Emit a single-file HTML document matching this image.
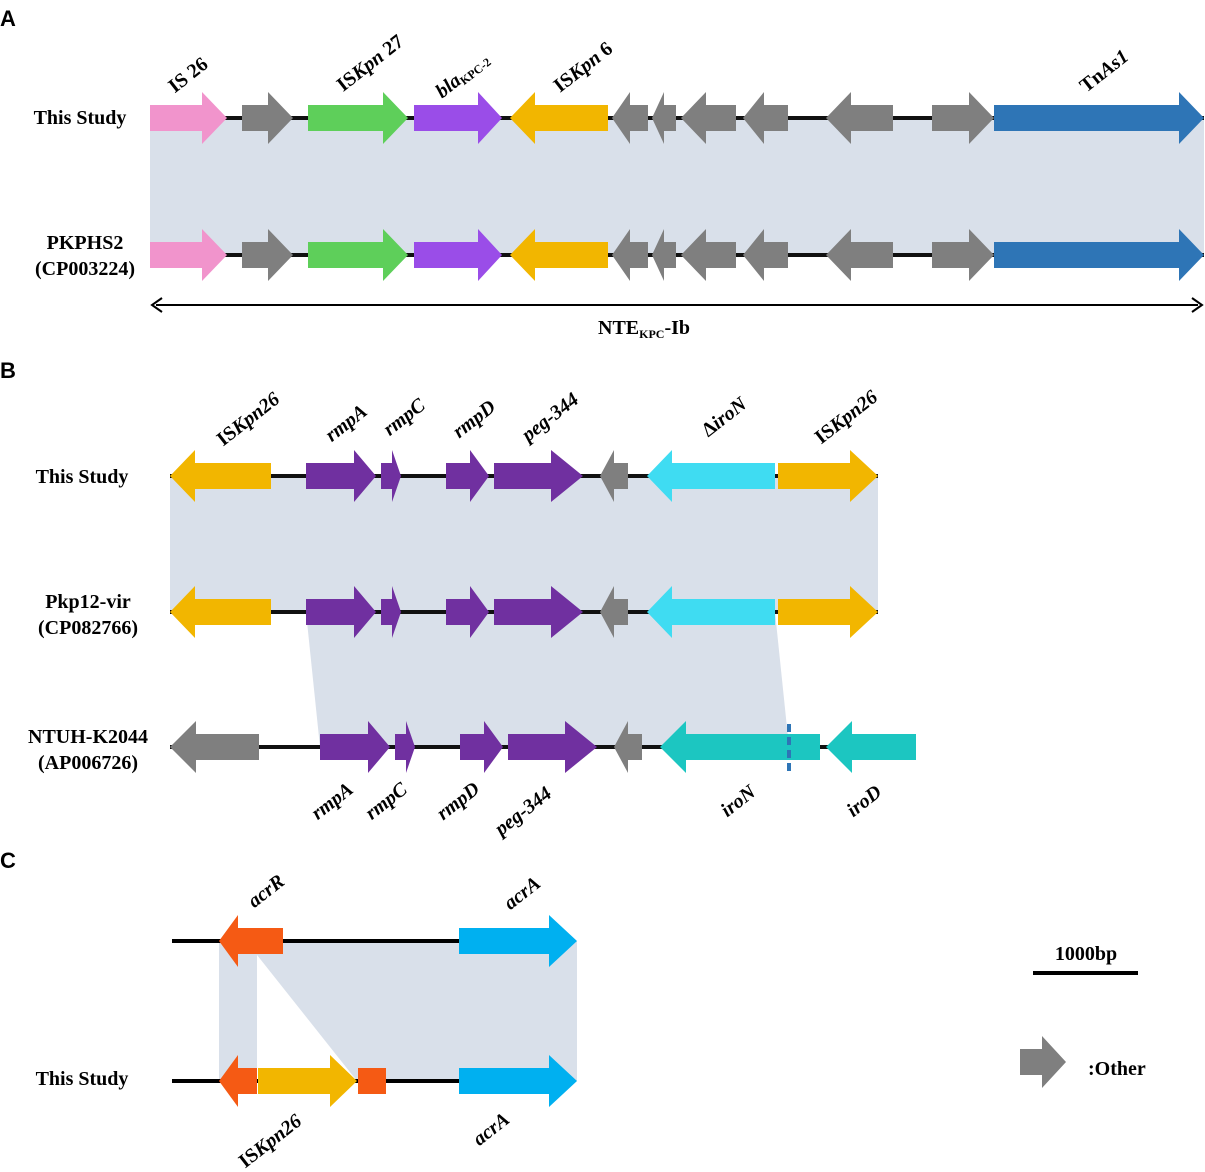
<!DOCTYPE html>
<html><head><meta charset="utf-8"><style>
body{margin:0;background:#fff}
svg{display:block}
text{font-family:"Liberation Serif",serif;font-weight:bold;fill:#000}
.lb{font-size:20px}
.g{font-size:20px;font-style:italic}
.L{font-family:"Liberation Sans",sans-serif;font-size:22px}
</style></head><body>
<svg width="1205" height="1172" viewBox="0 0 1205 1172" xmlns="http://www.w3.org/2000/svg">
<defs>
<g id="rowA">
<line x1="150" y1="118" x2="1204" y2="118" stroke="#111" stroke-width="4"/>
<polygon fill="#f194cc" points="150,105 202,105 202,92 227,118 202,144 202,131 150,131"/>
<polygon fill="#7f7f7f" points="242,105 268,105 268,92 293,118 268,144 268,131 242,131"/>
<polygon fill="#5ecf5a" points="308,105 383,105 383,92 408,118 383,144 383,131 308,131"/>
<polygon fill="#9a4de8" points="414,105 478,105 478,92 502,118 478,144 478,131 414,131"/>
<polygon fill="#f2b600" points="510,118 535,92 535,105 608,105 608,131 535,131 535,144"/>
<polygon fill="#7f7f7f" points="612,118 630,92 630,105 648,105 648,131 630,131 630,144"/>
<polygon fill="#7f7f7f" points="652,118 664,92 664,105 676,105 676,131 664,131 664,144"/>
<polygon fill="#7f7f7f" points="681,118 706,92 706,105 736,105 736,131 706,131 706,144"/>
<polygon fill="#7f7f7f" points="743,118 764,92 764,105 788,105 788,131 764,131 764,144"/>
<polygon fill="#7f7f7f" points="826,118 851,92 851,105 893,105 893,131 851,131 851,144"/>
<polygon fill="#7f7f7f" points="932,105 969,105 969,92 994,118 969,144 969,131 932,131"/>
<polygon fill="#2e75b6" points="994,105 1179,105 1179,92 1204,118 1179,144 1179,131 994,131"/>
</g>
<g id="rowB">
<line x1="170" y1="476" x2="878" y2="476" stroke="#111" stroke-width="4"/>
<polygon fill="#f2b600" points="170,476 195,450 195,463 271,463 271,489 195,489 195,502"/>
<polygon fill="#7030a0" points="306,463 354,463 354,450 376,476 354,502 354,489 306,489"/>
<polygon fill="#7030a0" points="381,463 392,463 392,450 401,476 392,502 392,489 381,489"/>
<polygon fill="#7030a0" points="446,463 470,463 470,450 489,476 470,502 470,489 446,489"/>
<polygon fill="#7030a0" points="494,463 551,463 551,450 583,476 551,502 551,489 494,489"/>
<polygon fill="#7f7f7f" points="600,476 614,450 614,463 628,463 628,489 614,489 614,502"/>
<polygon fill="#3fdcf2" points="647,476 672,450 672,463 775,463 775,489 672,489 672,502"/>
<polygon fill="#f2b600" points="778,463 850,463 850,450 878,476 850,502 850,489 778,489"/>
</g>
</defs>

<text class="L" x="0" y="26">A</text>
<text class="L" x="0" y="378">B</text>
<text class="L" x="0" y="868">C</text>

<!-- Panel A -->
<rect x="150" y="118" width="1054" height="137" fill="#d9e0ea"/>
<use href="#rowA"/>
<use href="#rowA" transform="translate(0,137)"/>
<text class="lb" x="80" y="124" text-anchor="middle">This Study</text>
<text class="lb" x="85" y="249" text-anchor="middle">PKPHS2</text>
<text class="lb" x="85" y="275" text-anchor="middle">(CP003224)</text>
<line x1="156" y1="305" x2="1198" y2="305" stroke="#000" stroke-width="2"/>
<polyline points="162,298 152,305 162,312" fill="none" stroke="#000" stroke-width="2"/>
<polyline points="1192,298 1202,305 1192,312" fill="none" stroke="#000" stroke-width="2"/>
<text class="lb" x="598" y="334">NTE<tspan font-size="12" dy="4">KPC</tspan><tspan dy="-4">-Ib</tspan></text>
<text class="lb" transform="translate(192,80) rotate(-38)" text-anchor="middle">IS 26</text>
<text class="lb" transform="translate(374,68) rotate(-38)" text-anchor="middle"><tspan>IS</tspan><tspan font-style="italic">Kpn</tspan> 27</text>
<text class="lb" transform="translate(466,80) rotate(-38)" text-anchor="middle"><tspan font-style="italic">bla</tspan><tspan font-size="12" dy="3">KPC-2</tspan></text>
<text class="lb" transform="translate(587,72) rotate(-38)" text-anchor="middle"><tspan>IS</tspan><tspan font-style="italic">Kpn</tspan> 6</text>
<text class="lb" transform="translate(1108,76) rotate(-38)" text-anchor="middle">Tn<tspan font-style="italic">As1</tspan></text>

<!-- Panel B -->
<rect x="170" y="476" width="708" height="136" fill="#d9e0ea"/>
<polygon points="306,612 775,612 789,747 320,747" fill="#d9e0ea"/>
<use href="#rowB"/>
<use href="#rowB" transform="translate(0,136)"/>
<line x1="170" y1="747" x2="916" y2="747" stroke="#111" stroke-width="4"/>
<polygon fill="#7f7f7f" points="170,747 196,721 196,734 259,734 259,760 196,760 196,773"/>
<polygon fill="#7030a0" points="320,734 368,734 368,721 390,747 368,773 368,760 320,760"/>
<polygon fill="#7030a0" points="395,734 406,734 406,721 415,747 406,773 406,760 395,760"/>
<polygon fill="#7030a0" points="460,734 484,734 484,721 503,747 484,773 484,760 460,760"/>
<polygon fill="#7030a0" points="508,734 565,734 565,721 597,747 565,773 565,760 508,760"/>
<polygon fill="#7f7f7f" points="614,747 628,721 628,734 642,734 642,760 628,760 628,773"/>
<polygon fill="#1cc6c1" points="660,747 686,721 686,734 820,734 820,760 686,760 686,773"/>
<polygon fill="#1cc6c1" points="826,747 852,721 852,734 916,734 916,760 852,760 852,773"/>
<line x1="789" y1="724" x2="789" y2="772" stroke="#2e75b6" stroke-width="4" stroke-dasharray="8,5"/>
<text class="lb" x="82" y="483" text-anchor="middle">This Study</text>
<text class="lb" x="88" y="608" text-anchor="middle">Pkp12-vir</text>
<text class="lb" x="88" y="634" text-anchor="middle">(CP082766)</text>
<text class="lb" x="88" y="743" text-anchor="middle">NTUH-K2044</text>
<text class="lb" x="88" y="769" text-anchor="middle">(AP006726)</text>
<text class="lb" transform="translate(252,424) rotate(-38)" text-anchor="middle">IS<tspan font-style="italic">Kpn26</tspan></text>
<text class="g" transform="translate(350,428) rotate(-38)" text-anchor="middle">rmpA</text>
<text class="g" transform="translate(408,422) rotate(-38)" text-anchor="middle">rmpC</text>
<text class="g" transform="translate(478,424) rotate(-38)" text-anchor="middle">rmpD</text>
<text class="g" transform="translate(554,422) rotate(-38)" text-anchor="middle">peg-344</text>
<text class="lb" transform="translate(728,422) rotate(-38)" text-anchor="middle">Δ<tspan font-style="italic">iroN</tspan></text>
<text class="lb" transform="translate(850,422) rotate(-38)" text-anchor="middle">IS<tspan font-style="italic">Kpn26</tspan></text>
<text class="g" transform="translate(336,806) rotate(-38)" text-anchor="middle">rmpA</text>
<text class="g" transform="translate(390,806) rotate(-38)" text-anchor="middle">rmpC</text>
<text class="g" transform="translate(462,806) rotate(-38)" text-anchor="middle">rmpD</text>
<text class="g" transform="translate(527,816) rotate(-38)" text-anchor="middle">peg-344</text>
<text class="g" transform="translate(742,806) rotate(-38)" text-anchor="middle">iroN</text>
<text class="g" transform="translate(868,806) rotate(-38)" text-anchor="middle">iroD</text>

<!-- Panel C -->
<polygon points="219,941 577,941 577,1081 357,1081 257,955 257,1081 219,1081" fill="#d9e0ea"/>
<line x1="172" y1="941" x2="460" y2="941" stroke="#000" stroke-width="4"/>
<line x1="172" y1="1081" x2="460" y2="1081" stroke="#000" stroke-width="4"/>
<polygon fill="#f55a14" points="219,941 238,915 238,928 257,928 257,954 238,954 238,967"/>
<rect x="257" y="928" width="26" height="26" fill="#f55a14"/>
<polygon fill="#00b0f0" points="459,928 549,928 549,915 577,941 549,967 549,954 459,954"/>
<polygon fill="#f55a14" points="219,1081 238,1055 238,1068 257,1068 257,1094 238,1094 238,1107"/>
<polygon fill="#f2b600" points="258,1068 330,1068 330,1055 357,1081 330,1107 330,1094 258,1094"/>
<rect x="358" y="1068" width="28" height="26" fill="#f55a14"/>
<polygon fill="#00b0f0" points="459,1068 549,1068 549,1055 577,1081 549,1107 549,1094 459,1094"/>
<text class="lb" x="82" y="1085" text-anchor="middle">This Study</text>
<text class="g" transform="translate(270,896) rotate(-38)" text-anchor="middle">acrR</text>
<text class="g" transform="translate(526,898) rotate(-38)" text-anchor="middle">acrA</text>
<text class="lb" transform="translate(274,1146) rotate(-38)" text-anchor="middle">IS<tspan font-style="italic">Kpn26</tspan></text>
<text class="g" transform="translate(495,1134) rotate(-38)" text-anchor="middle">acrA</text>

<line x1="1033" y1="973" x2="1138" y2="973" stroke="#000" stroke-width="4"/>
<text class="lb" x="1086" y="960" text-anchor="middle">1000bp</text>
<polygon fill="#7f7f7f" points="1020,1049 1042,1049 1042,1036 1066,1062 1042,1088 1042,1075 1020,1075"/>
<text class="lb" x="1088" y="1075">:Other</text>
</svg>
</body></html>
